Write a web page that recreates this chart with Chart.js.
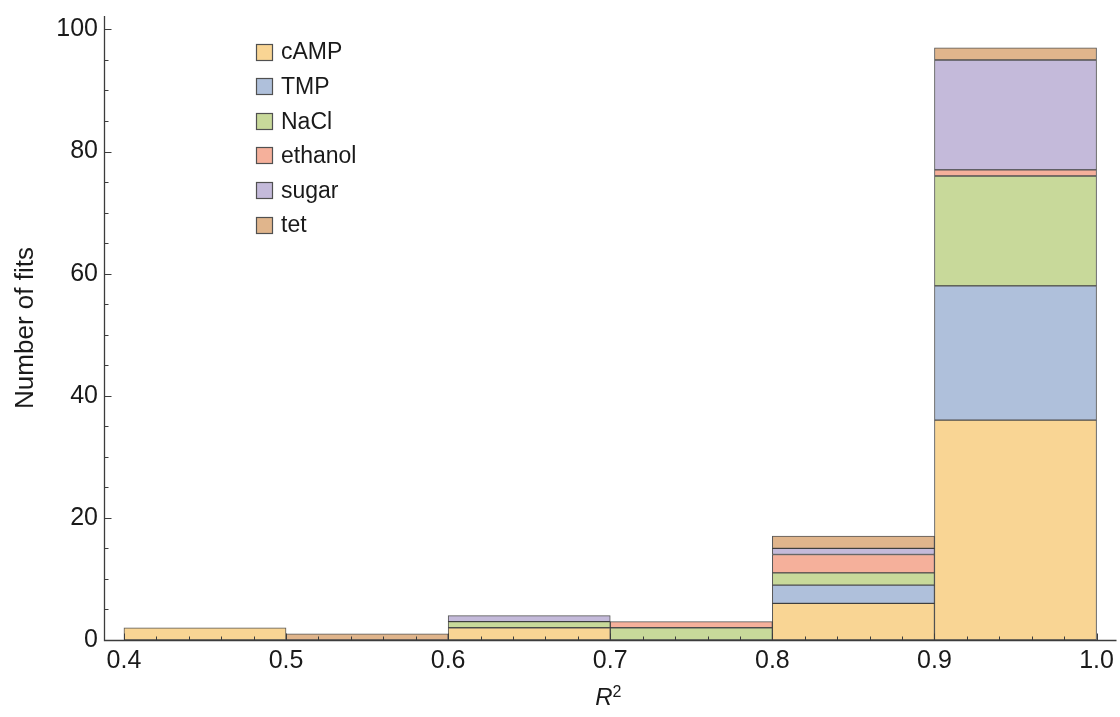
<!DOCTYPE html>
<html>
<head>
<meta charset="utf-8">
<title>Number of fits by R²</title>
<script src="https://cdn.jsdelivr.net/npm/chart.js@4.4.1/dist/chart.umd.min.js"></script>
<style>
  html, body { margin: 0; padding: 0; background: #ffffff; }
  #wrap { width: 1120px; height: 717px; position: relative; }
</style>
</head>
<body>
<div id="wrap"><canvas id="chart"></canvas></div>
<script>
// Histogram bins (centres of the 0.1-wide R² bins)
const binCenters = [0.45, 0.55, 0.65, 0.75, 0.85, 0.95];

// Counts of fits per bin, one array per condition (null = no fits)
const cAMP    = [2,    null, 2,    null, 6, 36];
const TMP     = [null, null, null, null, 3, 22];
const NaCl    = [null, null, 1,    2,    2, 18];
const ethanol = [null, null, null, 1,    3, 1];
const sugar   = [null, null, 1,    null, 1, 18];
const tet     = [null, 1,    null, null, 2, 2];

const seriesNames = ['cAMP', 'TMP', 'NaCl', 'ethanol', 'sugar', 'tet'];
const seriesValues = [cAMP, TMP, NaCl, ethanol, sugar, tet];
const seriesColors = ['#f9d594', '#afc0db', '#c8d99a', '#f5b09b', '#c4bada', '#e0b58c'];

// Axis tick labels
const xTicks = [0.4, 0.5, 0.6, 0.7, 0.8, 0.9, 1.0];
const yTicks = [0, 20, 40, 60, 80, 100];

const FONT = "'Liberation Sans', Arial, Helvetica, sans-serif";
const AXIS_COLOR = '#3c3c3c';
const TEXT_COLOR = '#1a1a1a';

const datasets = seriesNames.map((name, i) => ({
  label: name,
  data: binCenters.map((x, j) => ({ x: x, y: seriesValues[i][j] })),
  backgroundColor: seriesColors[i],
  borderColor: 'rgba(30,30,30,0.75)',
  borderWidth: 1,
  borderSkipped: false,
  barPercentage: 1,
  categoryPercentage: 1
}));

// Inward-pointing major/minor tick marks and axis lines
const axisDecor = {
  id: 'axisDecor',
  afterDatasetsDraw(chart) {
    const { ctx, chartArea, scales } = chart;
    const xs = scales.x, ys = scales.y;
    const left = Math.round(chartArea.left) + 0.5;
    const bottom = Math.round(chartArea.bottom) + 0.5;
    ctx.save();
    ctx.strokeStyle = AXIS_COLOR;
    ctx.lineWidth = 1.3;
    ctx.beginPath();
    ctx.moveTo(left, chartArea.top);
    ctx.lineTo(left, bottom);
    ctx.lineTo(chartArea.right, bottom);
    ctx.stroke();

    ctx.lineWidth = 1;
    ctx.beginPath();
    // y ticks: major every 20, minor every 5
    for (let v = 5; v <= ys.max + 1e-9; v += 5) {
      const y = Math.round(ys.getPixelForValue(v)) + 0.5;
      const len = (v % 20 === 0) ? 7 : 4;
      ctx.moveTo(left, y);
      ctx.lineTo(left + len, y);
    }
    // x ticks: major every 0.1, minor every 0.02
    for (let k = 20; k <= 50; k++) {
      const v = k / 50;
      const x = Math.round(xs.getPixelForValue(v)) + 0.5;
      const len = (k % 5 === 0) ? 7 : 4;
      ctx.moveTo(x, bottom);
      ctx.lineTo(x, bottom - len);
    }
    ctx.stroke();
    ctx.restore();
  }
};

// Vertical legend inside the plot and the R² axis label
const legendAndTitle = {
  id: 'legendAndTitle',
  afterDraw(chart) {
    const { ctx, scales } = chart;
    ctx.save();
    // legend
    const x0 = 256, y0 = 52, step = 34.6, box = 17;
    ctx.font = '23px ' + FONT;
    ctx.textBaseline = 'middle';
    ctx.textAlign = 'left';
    chart.data.datasets.forEach((ds, i) => {
      const cy = y0 + i * step;
      ctx.fillStyle = ds.backgroundColor;
      ctx.fillRect(x0, Math.round(cy - box / 2), box, box);
      ctx.strokeStyle = '#505050';
      ctx.lineWidth = 1.2;
      ctx.strokeRect(x0 + 0.5, Math.round(cy - box / 2) + 0.5, box - 1, box - 1);
      ctx.fillStyle = TEXT_COLOR;
      ctx.fillText(ds.label, x0 + 25, cy + 1);
    });

    // x-axis title: italic R with superscript 2
    const cx = (scales.x.left + scales.x.right) / 2 - 2;
    ctx.textBaseline = 'alphabetic';
    ctx.font = 'italic 24px ' + FONT;
    const wR = ctx.measureText('R').width;
    ctx.font = '16px ' + FONT;
    const w2 = ctx.measureText('2').width;
    const start = cx - (wR + w2) / 2;
    ctx.fillStyle = TEXT_COLOR;
    ctx.font = 'italic 24px ' + FONT;
    ctx.fillText('R', start, 705);
    ctx.font = '16px ' + FONT;
    ctx.fillText('2', start + wR, 697);
    ctx.restore();
  }
};

new Chart(document.getElementById('chart'), {
  type: 'bar',
  data: { datasets: datasets },
  options: {
    responsive: true,
    maintainAspectRatio: false,
    animation: false,
    layout: { padding: { top: 15, right: 3, bottom: 0, left: 0 } },
    plugins: {
      legend: { display: false },
      tooltip: { enabled: false }
    },
    scales: {
      x: {
        type: 'linear',
        stacked: true,
        offset: false,
        min: 0.3877,
        max: 1.0123,
        grid: { display: false, drawTicks: false },
        border: { display: false },
        afterBuildTicks: (scale) => { scale.ticks = xTicks.map(v => ({ value: v })); },
        afterFit: (scale) => { scale.height = 77; },
        ticks: {
          autoSkip: false,
          maxRotation: 0,
          padding: 6,
          color: TEXT_COLOR,
          font: { family: FONT, size: 25 },
          callback: (v) => Number(v).toFixed(1)
        }
      },
      y: {
        stacked: true,
        min: 0,
        max: 102.2,
        grid: { display: false, drawTicks: false },
        border: { display: false },
        afterBuildTicks: (scale) => { scale.ticks = yTicks.map(v => ({ value: v })); },
        afterFit: (scale) => { scale.width = 104; },
        ticks: {
          autoSkip: false,
          padding: 6,
          color: TEXT_COLOR,
          font: { family: FONT, size: 25, lineHeight: 0.8 },
          callback: (v) => String(v)
        },
        title: {
          display: true,
          text: 'Number of fits',
          color: TEXT_COLOR,
          font: { family: FONT, size: 26 },
          padding: { top: 10, bottom: 0 }
        }
      }
    }
  },
  plugins: [axisDecor, legendAndTitle]
});
</script>
</body>
</html>
